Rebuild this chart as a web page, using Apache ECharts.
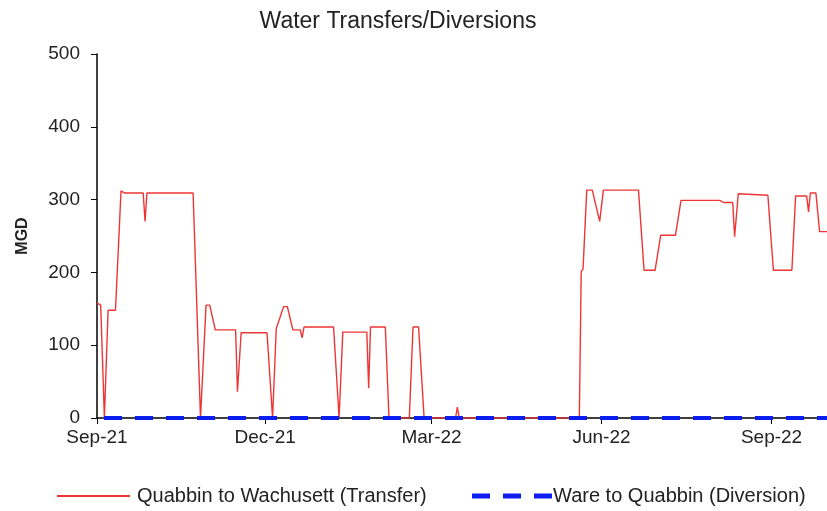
<!DOCTYPE html>
<html>
<head>
<meta charset="utf-8">
<script src="https://cdn.jsdelivr.net/npm/echarts@6/dist/echarts.min.js"></script>
<style>
  html, body { margin: 0; padding: 0; background: #fff; }
  #chart { width: 827px; height: 511px; }
</style>
</head>
<body>
<div id="chart"></div>
<script>
// Quabbin to Wachusett transfer (breakpoints, MGD)
const transferDates = [
  "2021-09-01", "2021-09-03", "2021-09-05", "2021-09-07", "2021-09-11", "2021-09-14",
  "2021-09-16", "2021-09-26", "2021-09-27", "2021-09-28", "2021-10-23", "2021-10-27",
  "2021-10-30", "2021-11-01", "2021-11-04", "2021-11-15", "2021-11-16", "2021-11-18",
  "2021-12-02", "2021-12-05", "2021-12-07", "2021-12-11", "2021-12-13", "2021-12-16",
  "2021-12-20", "2021-12-21", "2021-12-22", "2022-01-07", "2022-01-10", "2022-01-12",
  "2022-01-25", "2022-01-26", "2022-01-27", "2022-02-04", "2022-02-06", "2022-02-17",
  "2022-02-19", "2022-02-22", "2022-02-25", "2022-03-14", "2022-03-15", "2022-03-16",
  "2022-05-20", "2022-05-21", "2022-05-22", "2022-05-24", "2022-05-27", "2022-05-31",
  "2022-06-02", "2022-06-21", "2022-06-24", "2022-06-30", "2022-07-03", "2022-07-11",
  "2022-07-14", "2022-08-04", "2022-08-06", "2022-08-11", "2022-08-12", "2022-08-14",
  "2022-08-30", "2022-09-02", "2022-09-12", "2022-09-14", "2022-09-20", "2022-09-21",
  "2022-09-22", "2022-09-25", "2022-09-27", "2022-10-01"
];
const transferValues = [
  158, 155, 0, 148, 148, 312,
  309, 309, 270, 309, 309, 0,
  155, 155, 121, 121, 36, 117,
  117, 0, 123, 153, 153, 121,
  121, 110, 125, 125, 0, 118,
  118, 41, 125, 125, 0, 0,
  125, 125, 0, 0, 15, 0,
  0, 201, 205, 313, 313, 270,
  313, 313, 203, 203, 251, 251,
  299, 299, 296, 296, 249, 308,
  306, 203, 203, 305, 305, 283,
  309, 309, 256, 256
];
// Ware to Quabbin diversion (zero all year)
const diversionDates = ["2021-09-01", "2022-10-01"];
const diversionValues = [0, 0];

const tickDates = ["2021-09-01", "2021-12-01", "2022-03-01", "2022-06-01", "2022-09-01"];
const monthNames = ["Jan", "Feb", "Mar", "Apr", "May", "Jun", "Jul", "Aug", "Sep", "Oct", "Nov", "Dec"];

const FONT = "'Liberation Sans', Arial, sans-serif";
const RED = "#ee3535";
const BLUE = "#0a1ef0";

function toTime(s) {
  const p = s.split("-");
  return new Date(+p[0], +p[1] - 1, +p[2]).getTime();
}

const chart = echarts.init(document.getElementById("chart"));

const option = {
  animation: false,
  backgroundColor: "#fff",
  title: {
    text: "Water Transfers/Diversions",
    left: 393,
    textAlign: "center",
    top: 5,
    textStyle: { fontFamily: FONT, fontSize: 23, fontWeight: "normal", color: "#222" }
  },
  legend: [
    {
      data: [{ name: "Quabbin to Wachusett (Transfer)", icon: "rect" }],
      left: 52,
      top: 481,
      itemWidth: 73,
      itemHeight: 2,
      textStyle: { fontFamily: FONT, fontSize: 20, color: "#222", padding: [0, 0, 0, 2] }
    },
    {
      data: [{
        name: "Ware to Quabbin (Diversion)",
        icon: "path://M0,0h18v5h-18z M31,0h18v5h-18z M62,0h18v5h-18z"
      }],
      left: 467,
      top: 481,
      itemWidth: 80,
      itemHeight: 5,
      textStyle: { fontFamily: FONT, fontSize: 20, color: "#222", padding: [0, 0, 0, -4] }
    }
  ],
  grid: { left: 97, right: 0, top: 54, bottom: 93 },
  xAxis: {
    type: "value",
    min: toTime("2021-09-01"),
    max: toTime("2022-10-01"),
    axisLine: { lineStyle: { color: "#000", width: 1.5 } },
    axisTick: { show: true, length: 6, customValues: tickDates.map(toTime), lineStyle: { color: "#000" } },
    axisLabel: {
      customValues: tickDates.map(toTime),
      margin: 10,
      fontFamily: FONT,
      fontSize: 19,
      color: "#222",
      formatter: function (v) {
        const d = new Date(v);
        return monthNames[d.getMonth()] + "-" + String(d.getFullYear()).slice(2);
      }
    },
    splitLine: { show: false }
  },
  yAxis: {
    type: "value",
    min: 0,
    max: 500,
    interval: 100,
    name: "MGD",
    nameLocation: "middle",
    nameGap: 66,
    nameTextStyle: { fontFamily: FONT, fontSize: 16, fontWeight: "bold", color: "#222" },
    axisLine: { show: true, lineStyle: { color: "#000", width: 1.5 } },
    axisTick: { show: true, length: 6, lineStyle: { color: "#000" } },
    axisLabel: { margin: 17, fontFamily: FONT, fontSize: 19, color: "#222" },
    splitLine: { show: false }
  },
  series: [
    {
      name: "Quabbin to Wachusett (Transfer)",
      type: "line",
      symbol: "none",
      data: transferDates.map((d, i) => [toTime(d), transferValues[i]]),
      lineStyle: { color: RED, width: 1.4 },
      itemStyle: { color: RED },
      z: 2
    },
    {
      name: "Ware to Quabbin (Diversion)",
      type: "line",
      symbol: "none",
      data: diversionDates.map((d, i) => [toTime(d), diversionValues[i]]),
      lineStyle: { color: BLUE, width: 4, type: [18, 13], dashOffset: 24 },
      itemStyle: { color: BLUE },
      z: 3
    }
  ]
};

chart.setOption(option);
</script>
</body>
</html>
